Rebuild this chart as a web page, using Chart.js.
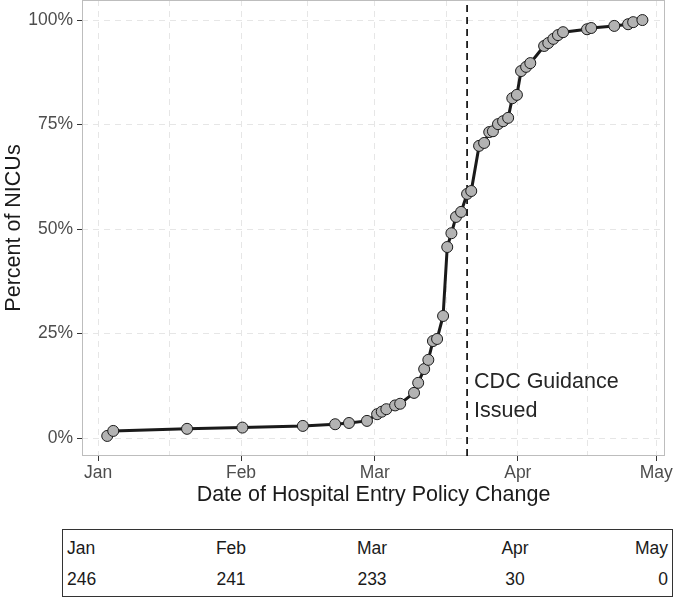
<!DOCTYPE html>
<html><head><meta charset="utf-8">
<script src="https://cdn.jsdelivr.net/npm/chart.js@4.4.1/dist/chart.umd.min.js"></script>
<style>
html,body{margin:0;padding:0;background:#fff;}
#wrap{position:relative;width:685px;height:599px;font-family:"Liberation Sans",Arial,sans-serif;}
#c{position:absolute;left:0;top:0;}
#tbl{position:absolute;left:62px;top:529px;width:609px;height:66px;border:1.5px solid #333;box-sizing:content-box;}
.cell{position:absolute;font-size:17.5px;color:#1a1a1a;line-height:18px;white-space:nowrap;}
</style></head><body>
<div id="wrap"><canvas id="c" width="685" height="520" style="width:685px;height:520px"></canvas><div id="tbl"></div></div>
<script>
// Days since Jan 1 (2020) of each hospital entry policy change, and cumulative percent of NICUs
const policyDays = [2, 3.3, 19.3, 31.3, 44.4, 51.4, 54.4, 58.3, 60.5, 61.5, 62.5, 64.4, 65.5, 68.5, 69.4,
  70.7, 71.6, 72.6, 73.5, 74.8, 75.7, 76.6, 77.6, 78.7, 80, 80.9, 82.6, 83.7, 84.8, 85.6, 86.7, 87.8, 88.9,
  89.8, 90.8, 91.7, 92.8, 93.7, 96.7, 97.6, 98.7, 99.7, 100.8, 106, 106.9, 111.9, 114.9, 116, 118];
const percentNICUs = [0.5, 1.7, 2.2, 2.5, 2.9, 3.3, 3.6, 4.1, 5.7, 6.3, 6.9, 7.8, 8.2, 10.8, 13.2,
  16.5, 18.7, 23.2, 23.7, 29.2, 45.7, 49.0, 52.9, 54.1, 58.4, 59.1, 69.9, 70.6, 73.2, 73.4, 75.1, 75.8, 76.6,
  81.3, 82.1, 87.8, 88.8, 89.7, 93.8, 94.5, 95.5, 96.4, 97.1, 97.8, 98.1, 98.6, 99.0, 99.5, 100];
const monthTickDays = [0, 31, 60, 91, 121];
const monthTickLabels = ['Jan', 'Feb', 'Mar', 'Apr', 'May'];
const percentTicks = [0, 25, 50, 75, 100];
const cdcGuidanceDay = 80;
const cdcLabelLines = ['CDC Guidance', 'Issued'];
const tableMonths = ['Jan', 'Feb', 'Mar', 'Apr', 'May'];
const tableCounts = ['246', '241', '233', '30', '0'];

const X_MIN = -3.47, X_MAX = 122.9, Y_MIN = -4.3, Y_MAX = 104.8;
const FONT = '"Liberation Sans", Arial, sans-serif';

const minorDays = [];
for (let i = 0; i < monthTickDays.length - 1; i++) minorDays.push((monthTickDays[i] + monthTickDays[i + 1]) / 2);
const allXTicks = monthTickDays.concat(minorDays).sort((a, b) => a - b);
const isMajor = v => monthTickDays.indexOf(v) >= 0;

const panelPlugin = {
  id: 'panel',
  beforeDatasetsDraw(chart) {
    const a = chart.chartArea, ctx = chart.ctx;
    ctx.save();
    ctx.strokeStyle = '#bdbdbd';
    ctx.lineWidth = 1;
    ctx.strokeRect(a.left + 0.5, a.top + 0.5, a.right - a.left - 1, a.bottom - a.top - 1);
    ctx.restore();
  },
  afterDatasetsDraw(chart) {
    const ctx = chart.ctx, xs = chart.scales.x, ys = chart.scales.y;
    ctx.save();
    ctx.fillStyle = '#262626';
    ctx.font = '21.5px ' + FONT;
    ctx.textBaseline = 'middle';
    ctx.textAlign = 'left';
    const x = xs.getPixelForValue(cdcGuidanceDay) + 7;
    ctx.fillText(cdcLabelLines[0], x, ys.getPixelForValue(13.4));
    ctx.fillText(cdcLabelLines[1], x, ys.getPixelForValue(6.5));
    ctx.restore();
  }
};

new Chart(document.getElementById('c'), {
  type: 'line',
  data: {
    datasets: [
      {
        data: policyDays.map((d, i) => ({x: d, y: percentNICUs[i]})),
        borderColor: '#1a1a1a',
        borderWidth: 3,
        pointRadius: 5.5,
        pointBorderWidth: 1,
        pointBorderColor: '#1a1a1a',
        pointBackgroundColor: '#b3b3b3',
        tension: 0,
        order: 1
      },
      {
        data: [{x: cdcGuidanceDay, y: Y_MIN}, {x: cdcGuidanceDay, y: Y_MAX}],
        borderColor: '#000',
        borderWidth: 1.6,
        borderDash: [7, 5],
        pointRadius: 0,
        order: 2
      }
    ]
  },
  options: {
    responsive: false,
    animation: false,
    devicePixelRatio: 1,
    layout: {autoPadding: false, padding: {left: 0, right: 20, top: 0, bottom: 0}},
    plugins: {legend: {display: false}, tooltip: {enabled: false}},
    scales: {
      x: {
        type: 'linear',
        min: X_MIN, max: X_MAX,
        afterBuildTicks: s => { s.ticks = allXTicks.map(v => ({value: v})); },
        afterFit: s => { s.height = 64; s.paddingLeft = 0; s.paddingRight = 0; },
        ticks: {
          autoSkip: false, maxRotation: 0,
          padding: 2,
          color: '#4d4d4d',
          font: {family: FONT, size: 17.5},
          callback: v => isMajor(v) ? monthTickLabels[monthTickDays.indexOf(v)] : ''
        },
        grid: {
          color: '#e6e6e6',
          lineWidth: 1,
          drawTicks: true,
          tickLength: 5,
          tickWidth: 1,
          tickColor: c => (c.tick && isMajor(c.tick.value)) ? '#333' : 'rgba(0,0,0,0)',
          tickBorderDash: []
        },
        border: {display: false, dash: [6, 5]},
        title: {display: true, text: 'Date of Hospital Entry Policy Change', color: '#1a1a1a',
          font: {family: FONT, size: 21.5, lineHeight: 1.2}, padding: {top: 0, bottom: 12}}
      },
      y: {
        type: 'linear',
        min: Y_MIN, max: Y_MAX,
        afterBuildTicks: s => { s.ticks = percentTicks.map(v => ({value: v})); },
        afterFit: s => { s.width = 82; s.paddingTop = 0; s.paddingBottom = 0; },
        ticks: {
          padding: 4,
          color: '#4d4d4d',
          font: {family: FONT, size: 17.5},
          callback: v => v + '%'
        },
        grid: {
          color: '#e6e6e6',
          lineWidth: 1,
          tickLength: 5,
          tickColor: '#333',
          tickBorderDash: []
        },
        border: {display: false, dash: [6, 5]},
        title: {display: true, text: 'Percent of NICUs', color: '#1a1a1a',
          font: {family: FONT, size: 21.5, lineHeight: 1.2}, padding: {top: 1, bottom: 0}}
      }
    }
  },
  plugins: [panelPlugin]
});

// Table of NICUs per month
const tbl = document.getElementById('tbl');
const colAnchor = [{x: 4, a: 0}, {x: 168, a: 0.5}, {x: 309, a: 0.5}, {x: 452, a: 0.5}, {x: 605, a: 1}];
[tableMonths, tableCounts].forEach((row, r) => {
  row.forEach((txt, i) => {
    const s = document.createElement('span');
    s.className = 'cell';
    s.textContent = txt;
    s.style.left = colAnchor[i].x + 'px';
    s.style.top = (r === 0 ? 9 : 40) + 'px';
    s.style.transform = 'translateX(' + (-colAnchor[i].a * 100) + '%)';
    tbl.appendChild(s);
  });
});
</script>
</body></html>
